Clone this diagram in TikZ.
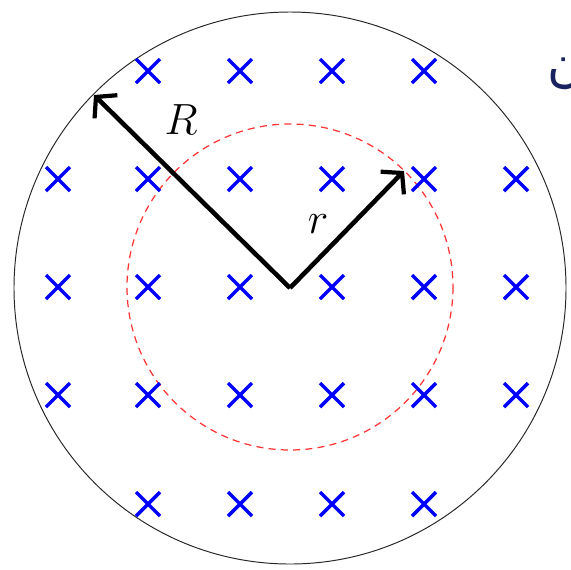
\documentclass[tikz,border=0pt]{standalone}
\usepackage{fontspec}
\newfontfamily\arabicfont[Script=Arabic]{DejaVu Sans}
\TeXXeTstate=1
\usepackage{xcolor}
\usetikzlibrary{arrows.meta}
\definecolor{navy}{RGB}{25,35,95}

\begin{document}
\begin{tikzpicture}[
  x=0.02cm, y=-0.02cm,
  rim/.style={draw=black!85, line width=0.55pt},
  loopc/.style={draw=red!80, dashed, dash pattern=on 4pt off 3pt, line width=0.7pt},
  field/.style={draw=blue, line width=2pt},
  arr/.style={-{Straight Barb[length=2.8mm, width=6.5mm, line width=2.4pt]}, line width=2.6pt},
  lbl/.style={font=\fontsize{27}{27}\selectfont, inner sep=0pt}
]
\clip (0,0) rectangle (571,569);
\coordinate (O) at (290,288);
\coordinate (Rtip) at (94,95);
\coordinate (rtip) at (404,171);
% outer region and amperian loop
\draw[rim] (O) circle[radius=276];
\draw[loopc] (290,287) circle[radius=163];
% field into the page
\foreach \x in {148,240,332,424}
  \foreach \y in {71,504}
    \draw[field] (\x-12,\y-12) -- ++(24,24) (\x-12,\y+12) -- ++(24,-24);
\foreach \x in {58,148,240,332,424,516}
  \foreach \y in {179,287,395}
    \draw[field] (\x-12,\y-12) -- ++(24,24) (\x-12,\y+12) -- ++(24,-24);
% radii
\draw[arr] (O) -- (Rtip);
\draw[arr] (O) -- (rtip);
\node[lbl] (Rlab) at (181,120) {$R$};
\node[lbl] (rlab) at (318,224) {$r$};
\node[text=navy, anchor=base west, inner sep=0pt, font=\arabicfont\fontsize{29}{29}\selectfont] (tag) at (547,81) {\beginR ن\endR};
\end{tikzpicture}
\end{document}
